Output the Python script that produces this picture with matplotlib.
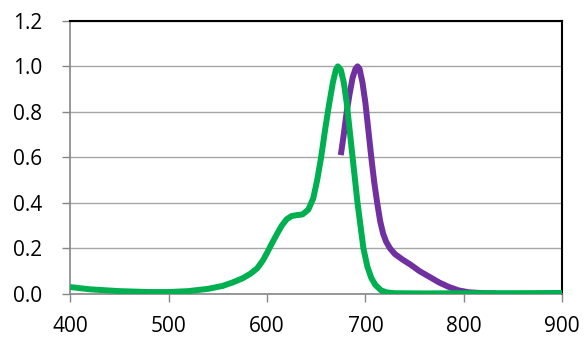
import matplotlib.pyplot as plt

# absorbance (green) and emission (purple), normalised
abs_wl = [400, 420, 450, 480, 500, 520, 540, 555, 565, 575, 583, 590, 596, 600,
          605, 610, 615, 620, 625, 630, 636, 642, 647, 651, 655, 659, 663, 667,
          670, 672, 675, 678, 681, 684, 687, 690, 692, 695, 698, 702, 706, 710,
          716, 722, 730, 760, 800, 850, 900]
abs_val = [0.030, 0.020, 0.012, 0.008, 0.008, 0.012, 0.022, 0.035, 0.050, 0.068,
           0.088, 0.112, 0.148, 0.180, 0.222, 0.262, 0.300, 0.328, 0.342, 0.346,
           0.349, 0.37, 0.42, 0.50, 0.60, 0.72, 0.83, 0.93, 0.985, 1.000, 0.985,
           0.93, 0.84, 0.72, 0.60, 0.48, 0.40, 0.30, 0.20, 0.12, 0.07, 0.04, 0.015,
           0.006, 0.003, 0.002, 0.003, 0.003, 0.004]

em_wl = [675, 678, 681, 684, 687, 690, 692, 694, 697, 700, 703, 706, 709, 712,
         715, 718, 721, 725, 730, 738, 746, 755, 765, 775, 785, 795, 805, 820, 833]
em_val = [0.61, 0.70, 0.80, 0.88, 0.95, 0.99, 1.00, 0.99, 0.93, 0.84, 0.72, 0.60,
          0.49, 0.40, 0.32, 0.265, 0.23, 0.20, 0.175, 0.15, 0.128, 0.10, 0.075,
          0.05, 0.03, 0.015, 0.007, 0.003, 0.002]

plt.rcParams['font.family'] = ['Open Sans', 'DejaVu Sans']

fig = plt.figure(figsize=(5.85, 3.37), dpi=100)
ax = fig.add_axes([0.120, 0.128, 0.841, 0.810])

ax.plot(abs_wl, abs_val, color='#00B050', linewidth=4.3, solid_capstyle='butt', zorder=3)
ax.plot(em_wl, em_val, color='#7030A0', linewidth=4.3, solid_capstyle='butt', zorder=2)

ax.set_xlim(400, 900)
ax.set_ylim(0, 1.2)
ax.set_xticks([400, 500, 600, 700, 800, 900])
ax.set_yticks([0.0, 0.2, 0.4, 0.6, 0.8, 1.0, 1.2])
ax.set_yticklabels(['0.0', '0.2', '0.4', '0.6', '0.8', '1.0', '1.2'])

ax.grid(axis='y', color='#A6A6A6', linewidth=1.0)
ax.set_axisbelow(True)

for s in ['left', 'bottom']:
    ax.spines[s].set_color('#868686')
    ax.spines[s].set_linewidth(1.2)
for s in ['top', 'right']:
    ax.spines[s].set_color('black')
    ax.spines[s].set_linewidth(1.5)

ax.tick_params(axis='both', direction='out', color='#868686', length=6, width=1.0,
               labelsize=15, labelcolor='black')
ax.tick_params(axis='y', pad=14)
ax.tick_params(axis='x', pad=10)

fig.savefig('out.png', dpi=100)
